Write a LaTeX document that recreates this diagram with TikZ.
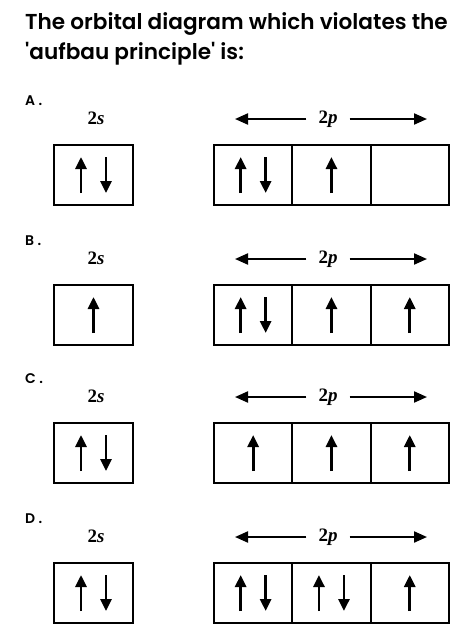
\documentclass[tikz,border=0pt]{standalone}
\usepackage{fontspec}
\setmainfont{Poppins}
\newfontfamily\titlefont{Poppins}[UprightFont=* SemiBold]
\newfontfamily\orbfont{Liberation Serif}
\usetikzlibrary{positioning,arrows.meta}

% electrons in one box: 0 empty, 1 up, 2 pair
\newcommand{\spins}[2]{%
  \ifcase#2\or
    \draw[spinarrow] ([yshift=-18pt]#1.center) -- ([yshift=18pt]#1.center);
  \or
    \draw[spinarrow] ([xshift=-12.5pt,yshift=-18pt]#1.center) -- ([xshift=-12.5pt,yshift=18pt]#1.center);
    \draw[spinarrow] ([xshift=12.5pt,yshift=18pt]#1.center) -- ([xshift=12.5pt,yshift=-18pt]#1.center);
  \fi}

\begin{document}
\begin{tikzpicture}[
    x=1pt, y=-1pt,
    orbbox/.style={draw, line width=2.1pt, minimum height=60pt, inner sep=0pt, outer sep=0pt},
    sbox/.style={orbbox, minimum width=79pt},
    pbox/.style={orbbox, minimum width=78.3pt},
    spinarrow/.style={-{Triangle[length=12pt,width=11pt]}, line width=2.8pt},
    sidearrow/.style={-{Triangle[length=13pt,width=11pt]}, line width=2.1pt},
    sublabel/.style={font=\orbfont\bfseries\fontsize{19}{19}\selectfont},
    optlabel/.style={font=\titlefont\fontsize{14}{14}\selectfont, anchor=west, inner sep=0pt}
]
    \useasboundingbox[fill=white] (0,0) rectangle (474,641);

    % Question
    \node[anchor=north west, align=left, inner sep=0pt,
          font=\titlefont\fontsize{21.6}{30}\selectfont] (title) at (25,12)
        {The orbital diagram which violates the\\\textquotesingle aufbau principle\textquotesingle\ is:};

    % Options
    \foreach \opt/\ytop/\s/\pa/\pb/\pc in {A/144/2/2/1/0, B/284/1/2/1/1, C/422/2/1/1/1, D/562/2/2/2/1}{
        \node[optlabel] (opt\opt) at (25,\ytop-43) {\opt\ .};

        % 2s box
        \node[sublabel] (slbl\opt) at (96,\ytop-26) {2\textit{s}};
        \node[sbox] (s\opt) at (93.5,\ytop+31) {};

        % 2p boxes
        \node[sublabel, inner xsep=12pt] (plbl\opt) at (328,\ytop-25) {2\textit{p}};
        \coordinate (pl\opt) at (235,\ytop-25);
        \coordinate (pr\opt) at (427,\ytop-25);
        \draw[sidearrow] (plbl\opt) -- (pl\opt);
        \draw[sidearrow] (plbl\opt) -- (pr\opt);
        \node[pbox, anchor=west] (p\opt1) at (214,\ytop+31) {};
        \node[pbox, right=0pt of p\opt1] (p\opt2) {};
        \node[pbox, right=0pt of p\opt2] (p\opt3) {};

        % Electrons
        \spins{s\opt}{\s}
        \spins{p\opt1}{\pa}
        \spins{p\opt2}{\pb}
        \spins{p\opt3}{\pc}
    }
\end{tikzpicture}
\end{document}
